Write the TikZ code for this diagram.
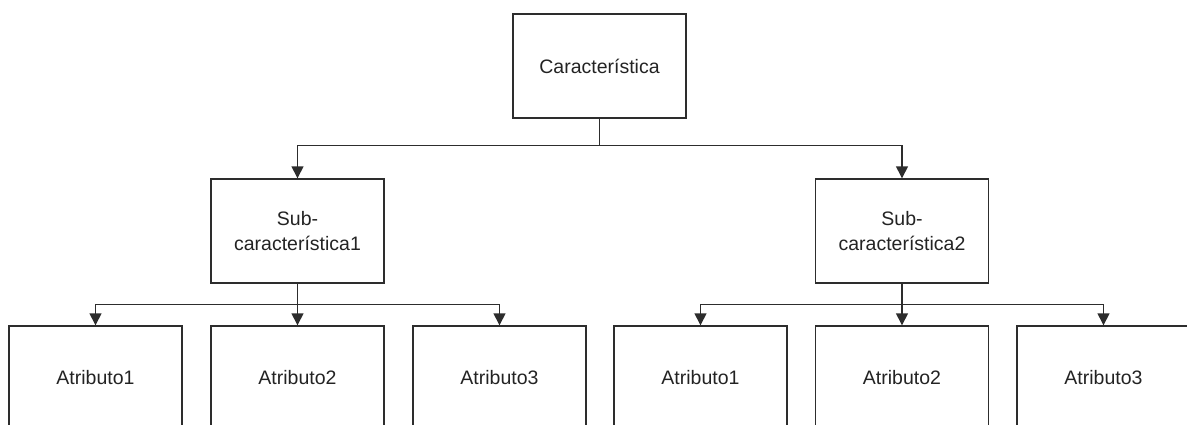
\documentclass[tikz,border=0pt]{standalone}
\usepackage{fontspec}
\setmainfont{Liberation Sans}
\usepackage{tikz}
\usetikzlibrary{arrows.meta,positioning}
\definecolor{boxline}{RGB}{45,45,45}
\definecolor{boxtext}{RGB}{35,35,35}

\tikzset{
  charbox/.style={draw=boxline,line width=1.4pt,minimum width=173pt,minimum height=104pt,
    inner sep=2pt,align=center,text=boxtext,font=\fontsize{19.5}{24.5}\selectfont},
  link/.style={draw=boxline,line width=1.4pt,-{Triangle[width=12pt,length=12pt]}}
}

\begin{document}
\begin{tikzpicture}[x=1pt,y=-1pt]
  \clip (0,0) rectangle (1187,424);
  \node[charbox] (car) at (599.5,66) {Característica};
  \node[charbox] (sub1) at (297.5,231) {Sub-\\característica1};
  \node[charbox] (sub2) at (902,231) {Sub-\\característica2};
  \foreach \name/\x/\txt in {a11/95.5/Atributo1,a12/297.5/Atributo2,a13/499.5/Atributo3,
                             a21/700.5/Atributo1,a22/902/Atributo2,a23/1103.5/Atributo3}
    \node[charbox] (\name) at (\x,378) {\txt};
  % top level
  \draw[link] (car.south) -- ++(0,27) -| (sub1.north);
  \draw[link] (car.south) -- ++(0,27) -| (sub2.north);
  % attributes
  \foreach \s in {1,2}{
    \draw[link] (sub\s.south) -- ++(0,21) -| (a\s1.north);
    \draw[link] (sub\s.south) -- (a\s2.north);
    \draw[link] (sub\s.south) -- ++(0,21) -| (a\s3.north);
  }
\end{tikzpicture}
\end{document}
